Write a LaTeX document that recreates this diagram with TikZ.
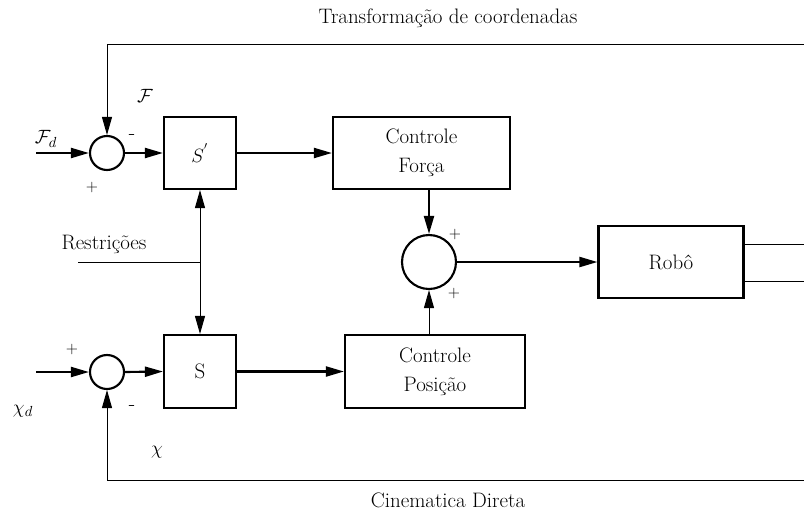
\documentclass[tikz,border=0pt]{standalone}
\usetikzlibrary{arrows.meta}
\begin{document}
\begin{tikzpicture}[x=0.75pt,y=-0.75pt,
  every node/.style={font=\fontsize{15.7}{21.5}\selectfont},
  thk/.style={line width=1.6pt},
  thn/.style={line width=0.75pt},
  tip/.style={-{Triangle[length=13.5pt,width=7.5pt]}},
  blk/.style={draw,thk,minimum width=#1*0.75pt,inner sep=0pt,align=center},
  sumc/.style={draw,thk,circle,inner sep=0pt,minimum size=#1*0.75pt},
  lbl/.style={inner sep=0pt},
  sgn/.style={inner sep=0pt,font=\fontsize{13}{15}\selectfont}]
\useasboundingbox (0,0) rectangle (804,514);
% blocks
\node[blk=72,minimum height=54pt] (Sp) at (200,153) {$S^{'}$};
\node[blk=177,minimum height=54pt] (CF) at (421.5,153) {Controle\\ Força};
\node[blk=72,minimum height=54.75pt] (S) at (200,371.5) {S};
\node[blk=180,minimum height=54.75pt] (CP) at (435,371.5) {Controle\\ Posição};
\node[blk=145,minimum height=54pt] (R) at (671,262) {Robô};
\node[sumc=34] (c1) at (107,153) {};
\node[sumc=34] (c2) at (107,372) {};
\node[sumc=54] (c3) at (429,262) {};
% coordinates
\coordinate (fdin) at (36,153);
\coordinate (xdin) at (36,372);
\coordinate (tl) at (107,44);
\coordinate (tr) at (804,44);
\coordinate (bl) at (107,480);
\coordinate (br) at (804,480);
\coordinate (rin) at (78,262);
\coordinate (rj) at (200,262);
\coordinate (o1) at (804,244);
\coordinate (o2) at (804,281);
% connectors
\draw[thk,tip] (fdin) -- (c1.west);
\draw[thk,tip] (c1.east) -- (Sp.west);
\draw[thk,tip] (Sp.east) -- (CF.west);
\draw[thk,tip] (CF.south -| c3) -- (c3.north);
\draw[thk,tip] (c3.east) -- (R.west);
\draw[thn,tip] (CP.north -| c3) -- (c3.south);
\draw[thk,tip] (xdin) -- (c2.west);
\draw[thk,tip] (c2.east) -- (S.west);
\draw[thk,tip] (S.east) -- (CP.west);
\draw[thn,tip] (tr) -- (tl) -- (c1.north);
\draw[thn,tip] (br) -- (bl) -- (c2.south);
\draw[thn] (rin) -- (rj);
\draw[thn,tip] (rj) -- (Sp.south);
\draw[thn,tip] (rj) -- (S.north);
\draw[thn] (R.east |- o1) -- (o1);
\draw[thn] (R.east |- o2) -- (o2);
% labels
\node[lbl] (t1) at (448,18) {Transformação de coordenadas};
\node[lbl] (t2) at (448,500) {Cinematica Direta};
\node[lbl] (t3) at (104,244) {Restrições};
\node[lbl] (lF) at (145,96) {$\mathcal{F}$};
\node[lbl] (lFd) at (46,139) {$\mathcal{F}_d$};
\node[sgn] (p1) at (92,187) {$+$};
\node[lbl] (m1) at (132,137) {-};
\node[sgn] (p2) at (72,349) {$+$};
\node[lbl] (lxd) at (23,411) {$\chi_d$};
\node[lbl] (m2) at (132,408) {-};
\node[lbl] (lx) at (157,452) {$\chi$};
\node[sgn] (p3) at (455,234) {$+$};
\node[sgn] (p4) at (454,293) {$+$};
\end{tikzpicture}
\end{document}
